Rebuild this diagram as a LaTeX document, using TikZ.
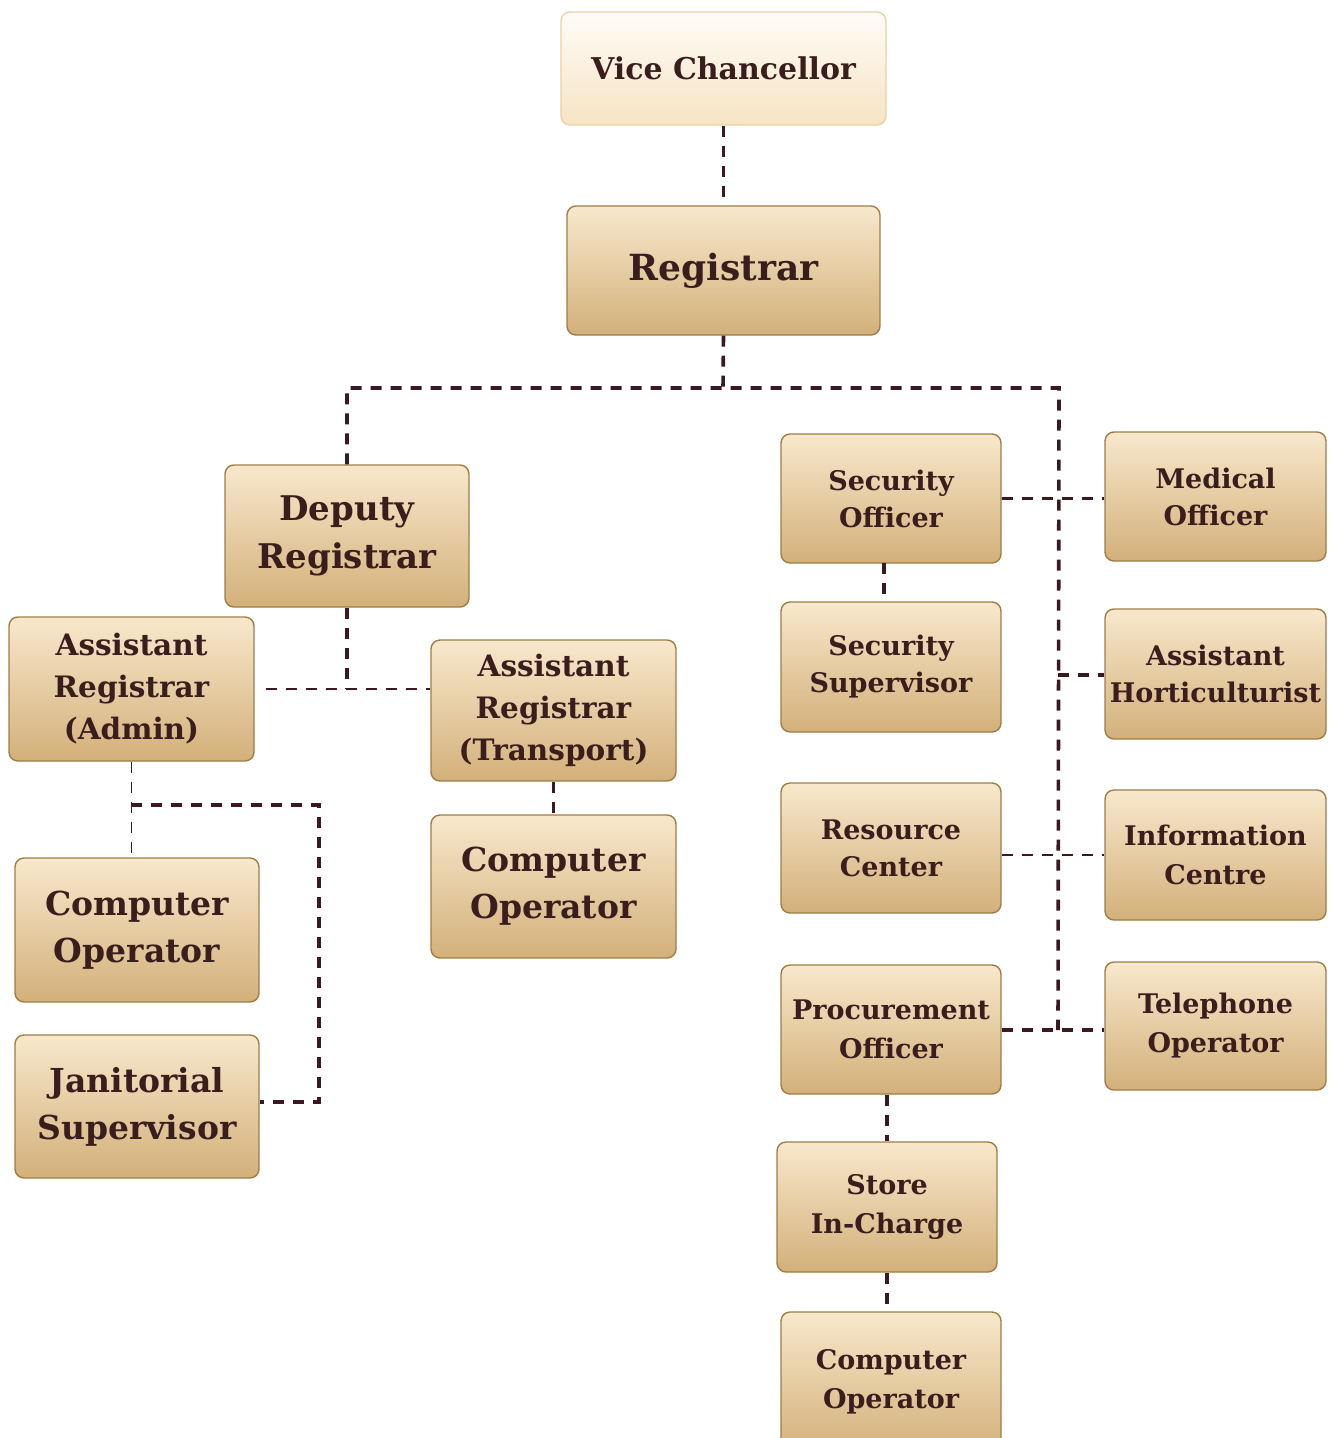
\documentclass[tikz,border=0pt]{standalone}
\usepackage{fontspec}
\setmainfont{DejaVu Serif}
\definecolor{boxtop}{HTML}{F8E8CC}
\definecolor{boxbot}{HTML}{D3B07A}
\definecolor{boxline}{HTML}{9E7E45}
\definecolor{vctop}{HTML}{FFFCF7}
\definecolor{vcbot}{HTML}{F6E4C4}
\definecolor{vcline}{HTML}{E9D2A4}
\definecolor{txt}{HTML}{3A1E1E}
\definecolor{conn}{HTML}{3A1A1E}
\newcommand{\fsz}[2]{\bfseries\fontsize{#1}{#2}\selectfont}
\tikzset{
  box/.style={rectangle, rounded corners=9pt, draw=boxline, line width=1.4pt,
    top color=boxtop, bottom color=boxbot, align=center, text=txt, inner sep=0pt},
  vcbox/.style={box, draw=vcline, top color=vctop, bottom color=vcbot},
  thickdash/.style={draw=conn, line width=3.6pt, dash pattern=on 11pt off 9pt},
  thindash/.style={draw=conn, line width=1.6pt, dash pattern=on 11pt off 9pt},
}
\begin{document}
\begin{tikzpicture}[x=1pt,y=-1pt]
\useasboundingbox[fill=white] (0,0) rectangle (1333,1438);

% nodes
\node[vcbox, minimum width=325pt, minimum height=113pt, font=\fsz{30}{36}] (vc) at (723.5,68.5) {Vice Chancellor};
\node[box, minimum width=313pt, minimum height=129pt, font=\fsz{36}{44}] (reg) at (723.5,270.5) {Registrar};
\node[box, minimum width=244pt, minimum height=142pt, font=\fsz{34}{48}] (dep) at (347,536) {Deputy\\Registrar};
\node[box, minimum width=245pt, minimum height=144pt, font=\fsz{29.5}{42}] (ara) at (131.5,689) {Assistant\\Registrar\\(Admin)};
\node[box, minimum width=245pt, minimum height=141pt, font=\fsz{29.5}{42}] (art) at (553.5,710.5) {Assistant\\Registrar\\(Transport)};
\node[box, minimum width=245pt, minimum height=143pt, font=\fsz{33}{47}] (com) at (553.5,886.5) {Computer\\Operator};
\node[box, minimum width=244pt, minimum height=144pt, font=\fsz{33}{47}] (col) at (137,930) {Computer\\Operator};
\node[box, minimum width=244pt, minimum height=143pt, font=\fsz{33}{47}] (jan) at (137,1106.5) {Janitorial\\Supervisor};
\node[box, minimum width=220pt, minimum height=129pt, font=\fsz{27}{37}] (sec) at (891,498.5) {Security\\Officer};
\node[box, minimum width=220pt, minimum height=130pt, font=\fsz{27}{37}] (ssu) at (891,667) {Security\\Supervisor};
\node[box, minimum width=221pt, minimum height=129pt, font=\fsz{27}{37}] (med) at (1215.5,496.5) {Medical\\Officer};
\node[box, minimum width=221pt, minimum height=130pt, font=\fsz{27}{37}] (hor) at (1215.5,674) {Assistant\\Horticulturist};
\node[box, minimum width=220pt, minimum height=130pt, font=\fsz{27}{37}] (res) at (891,848) {Resource\\Center};
\node[box, minimum width=221pt, minimum height=130pt, font=\fsz{27}{39}] (inf) at (1215.5,855) {Information\\Centre};
\node[box, minimum width=220pt, minimum height=129pt, font=\fsz{27}{39}] (pro) at (891,1029.5) {Procurement\\Officer};
\node[box, minimum width=221pt, minimum height=128pt, font=\fsz{27}{39}] (tel) at (1215.5,1026) {Telephone\\Operator};
\node[box, minimum width=220pt, minimum height=130pt, font=\fsz{27}{39}] (sto) at (887,1207) {Store\\In-Charge};
\node[box, minimum width=220pt, minimum height=140pt, font=\fsz{27}{39}] (cob) at (891,1382) {Computer\\Operator};

% coordinates
\coordinate (bar) at (723,388);
\coordinate (barL) at (347,388);
\coordinate (barR) at (1059,388);
\coordinate (trE) at (1058,1030);
\coordinate (depj) at (347,689);
\coordinate (araj) at (131,805);
\coordinate (janc) at (319,805);
\coordinate (janb) at (319,1102);

% connectors
\draw[thickdash] (vc.south) -- (reg.north);
\draw[thickdash] (reg.south) -- (bar);
\draw[thickdash] (dep.north) -- (barL) -- (barR) -- (trE);
\draw[thickdash] (sec.east) -- (sec.east -| med.west);
\draw[thickdash] (1058,675) -- (1058,675 -| hor.west);
\draw[thindash] (res.east |- inf.west) -- (inf.west);
\draw[thickdash] (pro.east |- trE) -- (trE -| tel.west);
\draw[thickdash] (884,563) -- (ssu.north -| 884,0);
\draw[thickdash] (pro.south -| 887,0) -- (sto.north);
\draw[thickdash] (sto.south) -- (sto.south |- cob.north);
\draw[thickdash] (dep.south) -- (depj);
\draw[thindash] (ara.east |- depj) ++(11,0) -- (art.west |- depj);
\draw[thickdash] (art.south) -- (com.north);
\draw[thindash] (ara.south) -- (col.north -| ara.south);
\draw[thickdash] (araj) -- (janc) -- (janb) -- (jan.east |- janb);
\end{tikzpicture}
\end{document}
